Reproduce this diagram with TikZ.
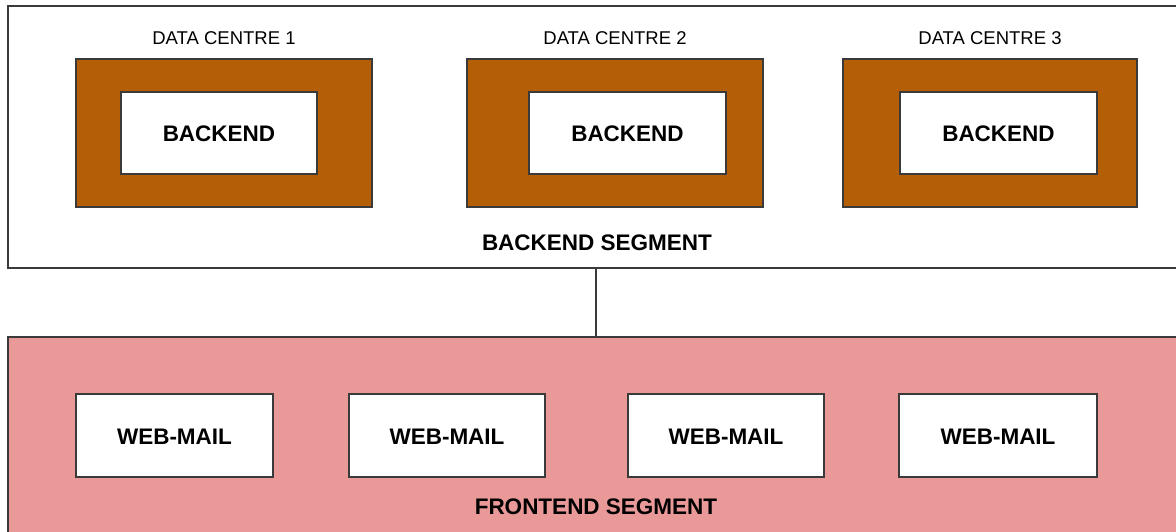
\documentclass[tikz,border=0pt]{standalone}
\usepackage{fontspec}
\setmainfont{Liberation Sans}
\definecolor{brownfill}{HTML}{B45F06}
\definecolor{pinkfill}{HTML}{EA9999}
\definecolor{edge}{HTML}{3A3A3A}
\begin{document}
\begin{tikzpicture}[x=1pt,y=-1pt,
  box/.style={draw=edge,line width=2.8pt,inner sep=0pt},
  segbox/.style={draw=edge,line width=2.4pt},
  dcbox/.style={box,fill=brownfill},
  whitebox/.style={box,fill=white,font=\fontsize{22.5}{26}\selectfont\bfseries},
  seglabel/.style={font=\fontsize{22.5}{26}\selectfont\bfseries,inner sep=0pt},
  dclabel/.style={font=\fontsize{18.5}{22}\selectfont,inner sep=0pt}]
\useasboundingbox (0,0) rectangle (1176,531);
\clip (0,0) rectangle (1176,531);
% segments
\draw[segbox,fill=white] (8,6) rectangle (1190,268);
\draw[segbox,fill=pinkfill] (8,337) rectangle (1190,545);
\coordinate (bseg) at (596,268);
\coordinate (fseg) at (596,337);
\draw[segbox] (bseg) -- (fseg);
% data centres
\foreach \i/\l/\r/\il/\ir in {1/76/372/121/317, 2/467/763/529/726, 3/843/1137/900/1097}{
  \draw[dcbox] (\l,59) rectangle (\r,207);
  \node[dclabel] (dc\i) at ({(\l+\r)/2},38.5) {DATA CENTRE \i};
  \node[whitebox,minimum width={\ir-\il},minimum height=82] (be\i) at ({(\il+\ir)/2},133) {};
  \node[seglabel] (bt\i) at ({(\il+\ir)/2},134) {BACKEND};
}
\node[seglabel] (bl) at (597,243) {BACKEND SEGMENT};
% web-mail
\foreach \i/\l/\r in {1/76/273, 2/349/545, 3/628/824, 4/899/1097}{
  \node[whitebox,minimum width={\r-\l},minimum height=83] (wm\i) at ({(\l+\r)/2},435.5) {};
  \node[seglabel] (wt\i) at ({(\l+\r)/2},437) {WEB-MAIL};
}
\node[seglabel] (fl) at (596,507) {FRONTEND SEGMENT};
\end{tikzpicture}
\end{document}
